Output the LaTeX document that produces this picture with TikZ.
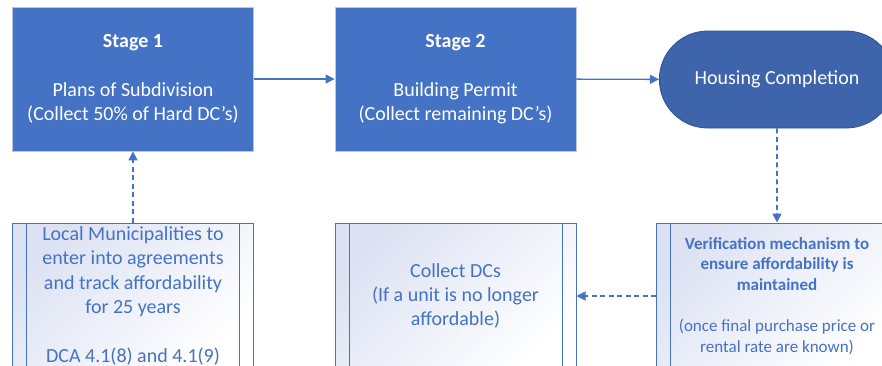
\documentclass[tikz,border=0pt]{standalone}
\usepackage{fontspec}
\setmainfont{Carlito}
\usetikzlibrary{arrows.meta,shapes.misc,positioning}

\definecolor{stageblue}{HTML}{4472C4}
\definecolor{donefill}{HTML}{3E64AB}
\definecolor{doneedge}{HTML}{2F528F}
\definecolor{stageedge}{HTML}{B8C6E2}
\definecolor{boxtint}{HTML}{DCE2F3}

\begin{document}
\begin{tikzpicture}[x=1pt, y=1pt,
	stagebox/.style={draw=stageedge, fill=stageblue, text=white, line width=0.8pt,
		minimum width=241pt, minimum height=144pt, align=center,
		font=\fontsize{20}{24.4}\selectfont},
	donebox/.style={rounded rectangle, draw=doneedge, fill=donefill, text=white,
		line width=0.8pt, minimum width=242pt, minimum height=97pt,
		font=\fontsize{20}{24.4}\selectfont},
	procbox/.style={draw=stageblue, line width=1pt, top color=boxtint,
		bottom color=white, shading angle=45, text=stageblue,
		minimum width=241pt, minimum height=146pt, align=center,
		font=\fontsize{20}{24.4}\selectfont,
		path picture={
			\draw [stageblue, line width=1pt]
				([xshift=14pt]path picture bounding box.north west) --
				([xshift=14pt]path picture bounding box.south west);
			\draw [stageblue, line width=1pt]
				([xshift=-14pt]path picture bounding box.north east) --
				([xshift=-14pt]path picture bounding box.south east);
		}},
	flow/.style={stageblue, line width=1.4pt, -{Triangle[width=9pt,length=9pt]}},
	check/.style={flow, line width=1.6pt, dash pattern=on 5pt off 3.5pt}]

	\clip (0,0) rectangle (882,-365);

	\coordinate (s1) at (133,-79);
	\coordinate (s2) at (455.5,-79);
	\coordinate (hc) at (777,-79.5);

	\node [stagebox] (stage1) at (s1)
		{\textbf{Stage 1}\\[24.4pt]Plans of Subdivision\\(Collect 50\% of Hard DC’s)};
	\node [stagebox] (stage2) at (s2)
		{\textbf{Stage 2}\\[24.4pt]Building Permit\\(Collect remaining DC’s)};
	\node [donebox] (done) at (hc) {Housing Completion};

	\node [procbox] (local) at (133,-296)
		{Local Municipalities to\\enter into agreements\\and track affordability\\for 25 years\\[24.4pt]DCA 4.1(8) and 4.1(9)};
	\node [procbox] (collect) at (455.5,-296)
		{Collect DCs\\(If a unit is no longer\\affordable)};
	\node [procbox, font=\fontsize{17}{20.6}\selectfont] (verify) at (777,-296)
		{\textbf{Verification mechanism to}\\\textbf{ensure affordability is}\\\textbf{maintained}\\[20.6pt](once final purchase price or\\rental rate are known)};

	\draw [flow] (stage1) -- (stage2);
	\draw [flow] (stage2) -- (done);

	% dashed checks
	\draw [check] (done) -- (verify);
	\draw [check] (verify) -- (collect);
	\draw [check] (local) -- (stage1);
\end{tikzpicture}
\end{document}
